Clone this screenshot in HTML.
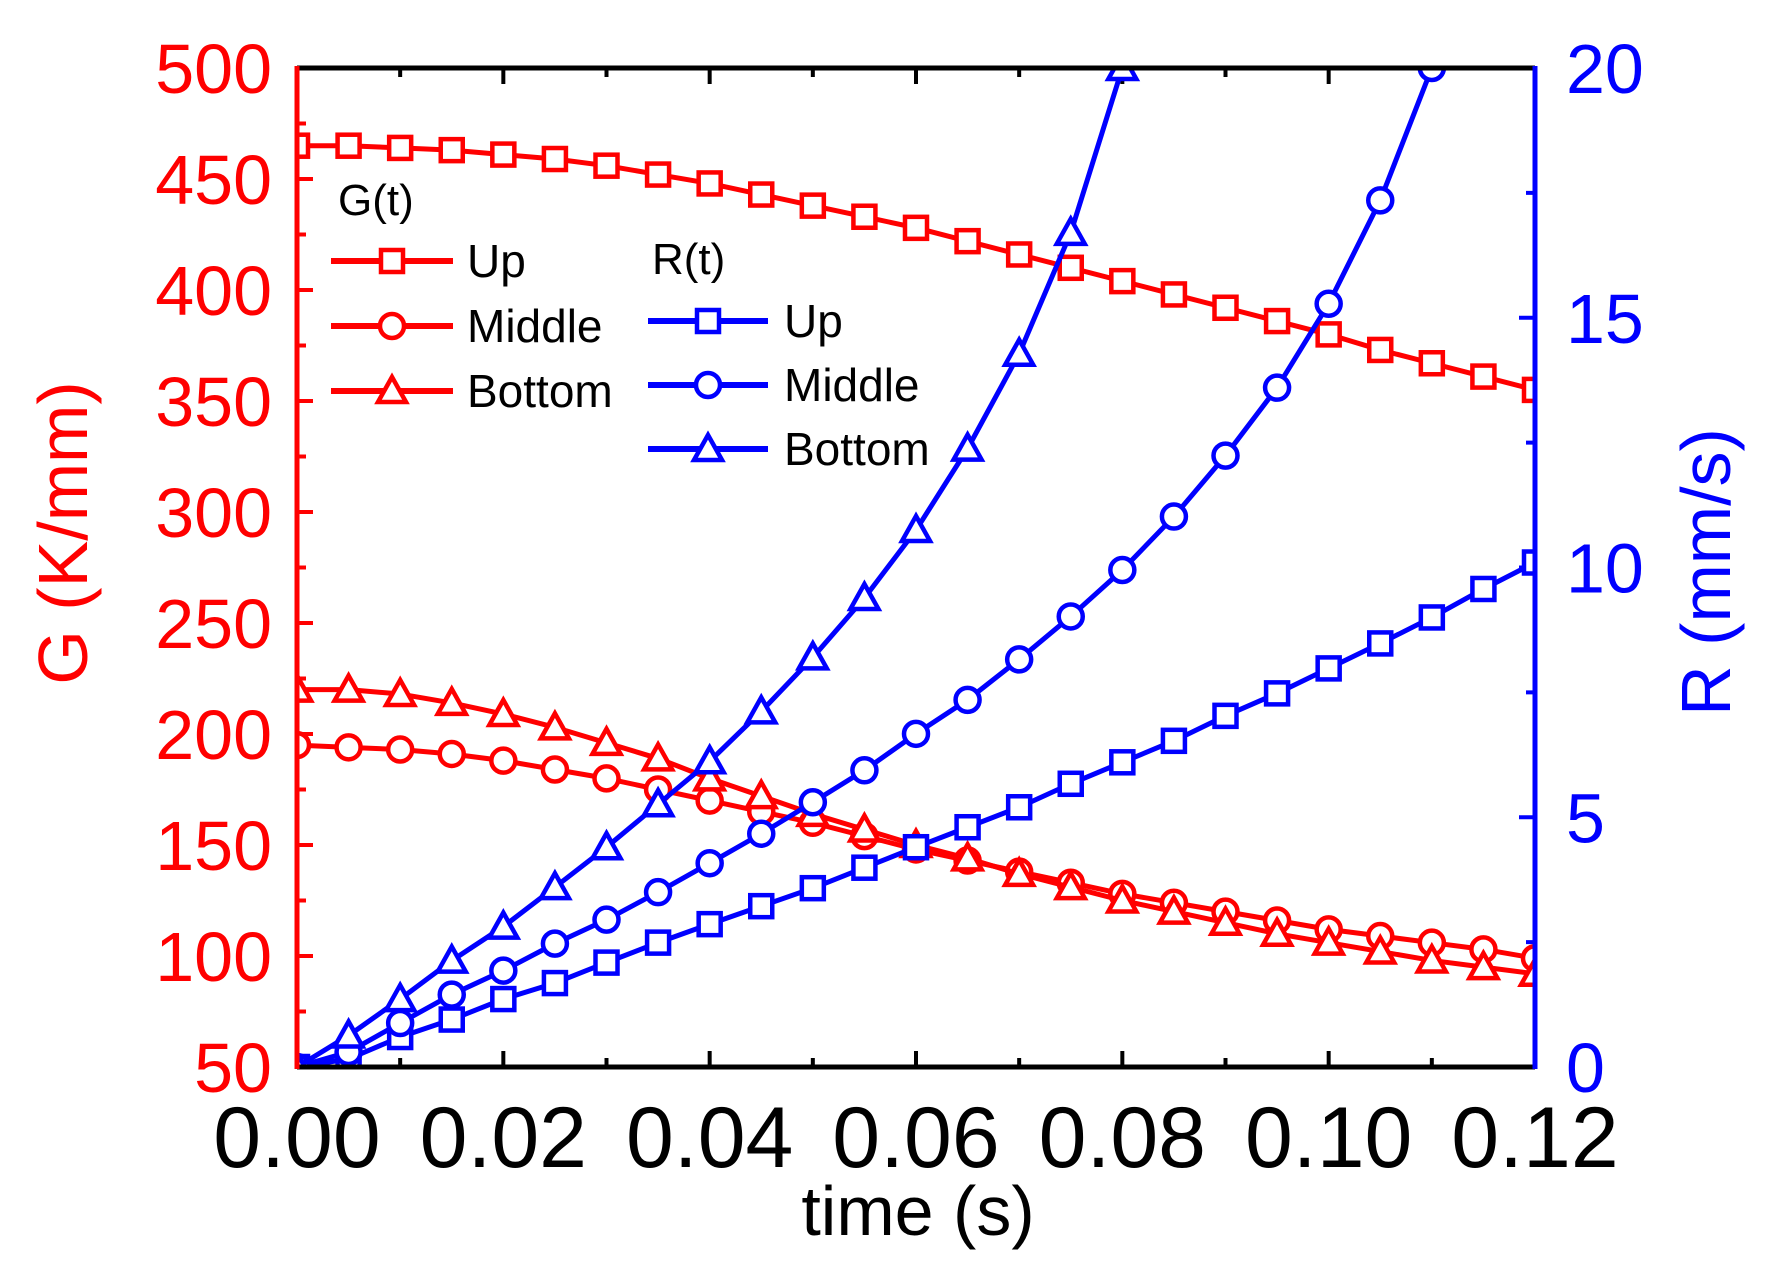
<!DOCTYPE html>
<html><head><meta charset="utf-8"><style>
html,body{margin:0;padding:0;background:#fff;}
svg{display:block;font-family:"Liberation Sans",sans-serif;}
</style></head><body>
<svg id="chart" width="1768" height="1282" viewBox="0 0 1768 1282" xmlns="http://www.w3.org/2000/svg"></svg>
<script>
const times = [0,0.005,0.01,0.015,0.02,0.025,0.03,0.035,0.04,0.045,0.05,0.055,0.06,0.065,0.07,0.075,0.08,0.085,0.09,0.095,0.1,0.105,0.11,0.115,0.12];
const gUp = [465,465,464,463,461,459,456,452,448,443,438,433,428,422,416,410,404,398,392,386,380,373,367,361,355];
const gMiddle = [195,194,193,191,188,184,180,175,170,165,160,154,148,143,138,133,128,124,120,116,112,109,106,103,99];
const gBottom = [220,220,218,214,209,203,196,189,180,172,164,157,150,144,137,131,125,120,115,110,106,102,98,95,92];
const rUp = [0,0.16,0.6,0.95,1.36,1.68,2.09,2.49,2.86,3.22,3.58,3.99,4.4,4.8,5.2,5.67,6.1,6.53,7.03,7.48,7.98,8.48,9.0,9.57,10.1];
const rMiddle = [0,0.3,0.88,1.45,1.93,2.47,2.95,3.5,4.08,4.67,5.3,5.94,6.67,7.35,8.16,9.02,9.95,11.02,12.24,13.6,15.28,17.35,20];
const rBottom = [0,0.63,1.36,2.13,2.81,3.6,4.4,5.26,6.12,7.12,8.2,9.39,10.75,12.38,14.28,16.7,20];
const xTicks = ["0.00","0.02","0.04","0.06","0.08","0.10","0.12"];
const gTicks = ["50","100","150","200","250","300","350","400","450","500"];
const rTicks = ["0","5","10","15","20"];

const L=297,R=1535,T=68,B=1067;
const X=t=>L+(t/0.12)*(R-L);
const YG=g=>B-(g-50)/450*(B-T);
const YR=r=>B-(r/20)*(B-T);
const svg=document.getElementById('chart');
const NS='http://www.w3.org/2000/svg';
function el(tag,attrs,parent){const e=document.createElementNS(NS,tag);for(const k in attrs)e.setAttribute(k,attrs[k]);(parent||svg).appendChild(e);return e;}
function txt(s,attrs){const e=el('text',attrs);e.textContent=s;return e;}

const defs=el('defs',{});const cp=el('clipPath',{id:'pc'},defs);el('rect',{x:L,y:T,width:R-L,height:B-T},cp);

for(let i=0;i<=12;i++){const x=X(i*0.01);const len=i%2==0?16:9;
 let t=el('line',{x1:x,y1:B,x2:x,y2:B-len,stroke:'#000','stroke-width':4});
 
 el('line',{x1:x,y1:T,x2:x,y2:T+len,stroke:'#000','stroke-width':4});}
xTicks.forEach(s=>{const v=parseFloat(s);const e=txt(s,{x:X(v),y:1167,'font-size':86,'text-anchor':'middle',fill:'#000'});
 });
for(let g=50;g<=500;g+=25){const y=YG(g);const len=(g%50==0)?16:9;el('line',{x1:L,y1:y,x2:L+len,y2:y,stroke:'#f00','stroke-width':4});}
gTicks.forEach(s=>{const e=txt(s,{x:272,y:YG(+s)+25,'font-size':70,'text-anchor':'end',fill:'#f00'});
 });
for(let r=0;r<=20;r+=2.5){const y=YR(r);const len=(r%5==0)?16:9;el('line',{x1:R,y1:y,x2:R-len,y2:y,stroke:'#00f','stroke-width':4});}
rTicks.forEach(s=>{const e=txt(s,{x:1566,y:YR(+s)+25,'font-size':70,'text-anchor':'start',fill:'#00f'});
 });

function marker(shape,x,y,color,g){
 if(shape==='sq')return el('rect',{x:x-11,y:y-11,width:22,height:22,fill:'#fff',stroke:color,'stroke-width':4.5},g);
 if(shape==='ci')return el('circle',{cx:x,cy:y,r:12,fill:'#fff',stroke:color,'stroke-width':4.5},g);
 return el('polygon',{points:`${x},${y-14} ${x-14},${y+11} ${x+14},${y+11}`,fill:'#fff',stroke:color,'stroke-width':4.5},g);
}
function series(vals,yf,color,shape,name){
 const g=el('g',{'clip-path':'url(#pc)'});
 
 const pts=vals.map((v,i)=>X(times[i])+','+yf(v)).join(' ');
 el('polyline',{points:pts,fill:'none',stroke:color,'stroke-width':5,'stroke-linejoin':'round'},g);
 vals.forEach((v,i)=>{const m=marker(shape,X(times[i]),yf(v),color,g);
  });
}
series(gUp,YG,'#f00','sq','g-up-series');
series(gMiddle,YG,'#f00','ci','g-middle-series');
series(gBottom,YG,'#f00','tr','g-bottom-series');
series(rUp,YR,'#00f','sq','r-up-series');
series(rMiddle,YR,'#00f','ci','r-middle-series');
series(rBottom,YR,'#00f','tr','r-bottom-series');

el('line',{x1:L,y1:T,x2:R,y2:T,stroke:'#000','stroke-width':5});
el('line',{x1:L,y1:B,x2:R,y2:B,stroke:'#000','stroke-width':5});
let la=el('line',{x1:L,y1:T-2,x2:L,y2:B+2,stroke:'#f00','stroke-width':5});

let ra=el('line',{x1:R,y1:T-2,x2:R,y2:B+2,stroke:'#00f','stroke-width':5});


function legendEntry(x1,x2,y,color,shape,label,tx,name){
 const g=el('g',{});
 el('line',{x1:x1,y1:y,x2:x2,y2:y,stroke:color,'stroke-width':6},g);
 marker(shape,(x1+x2)/2,y,color,g);
 const t=el('text',{x:tx,y:y+16,'font-size':46,fill:'#000'},g);t.textContent=label;
}
let gt=txt('G(t)',{x:338,y:215,'font-size':44,fill:'#000'});
legendEntry(331,453,261,'#f00','sq','Up',467,'legend-g-up');
legendEntry(331,453,326,'#f00','ci','Middle',467,'legend-g-middle');
legendEntry(331,453,391,'#f00','tr','Bottom',467,'legend-g-bottom');
let rt=txt('R(t)',{x:652,y:274,'font-size':44,fill:'#000'});
legendEntry(648,768,321,'#00f','sq','Up',784,'legend-r-up');
legendEntry(648,768,385,'#00f','ci','Middle',784,'legend-r-middle');
legendEntry(648,768,449,'#00f','tr','Bottom',784,'legend-r-bottom');

let xt=txt('time (s)',{x:918,y:1235,'font-size':70,'text-anchor':'middle',fill:'#000'});

let yl=txt('G (K/mm)',{x:0,y:0,'font-size':70,'text-anchor':'middle',fill:'#f00',transform:'translate(87,533) rotate(-90)'});

let yr=txt('R (mm/s)',{x:0,y:0,'font-size':70,'text-anchor':'middle',fill:'#00f',transform:'translate(1730,572) rotate(-90)'});

</script>
</body></html>
